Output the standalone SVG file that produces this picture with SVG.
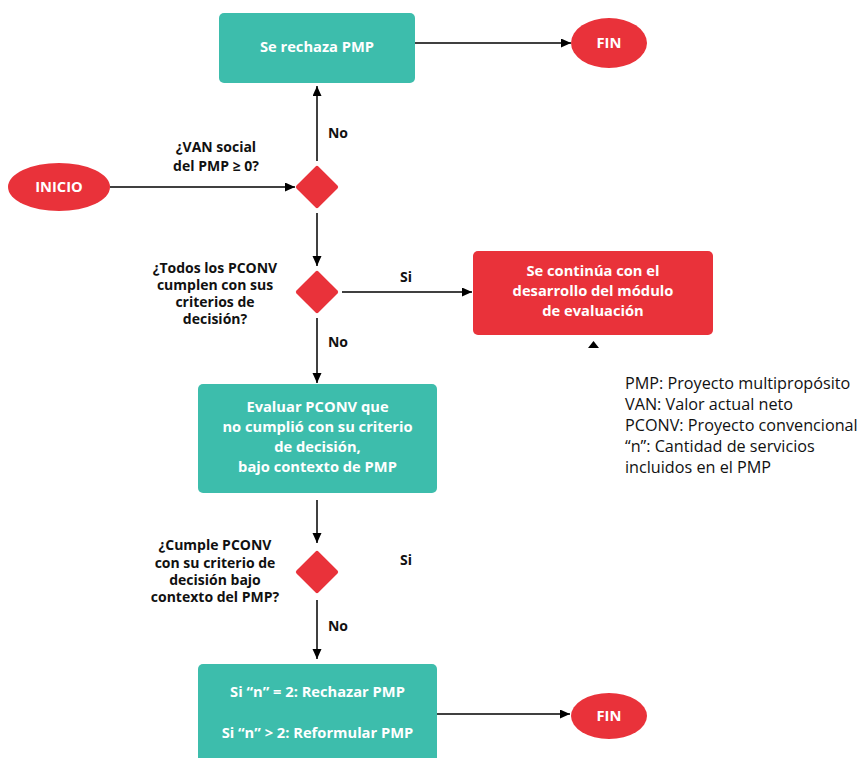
<svg xmlns="http://www.w3.org/2000/svg" width="864" height="758" viewBox="0 0 864 758">
  <defs>
    <style>
      .proc { fill: #3dbdac; }
      .term { fill: #e9323a; }
      .dec { fill: #e9323a; }
      .wt { font-family: "Open Sans", "Noto Sans", sans-serif; font-weight: bold; font-size: 14.7px; fill: #ffffff; text-anchor: middle; }
      .lb { font-family: "Open Sans", "Noto Sans", sans-serif; font-weight: bold; font-size: 14px; fill: #111111; text-anchor: middle; }
      .lg { font-family: "Open Sans", "Noto Sans", sans-serif; font-size: 16.2px; fill: #111111; }
      .edge { stroke: #000000; stroke-width: 1.5; fill: none; marker-end: url(#arrow); }
    </style>
    <marker id="arrow" markerUnits="userSpaceOnUse" markerWidth="11" markerHeight="10" refX="10" refY="4.5" orient="auto">
      <path d="M0,0 L10,4.5 L0,9 z" fill="#000000"/>
    </marker>
  </defs>
  <rect width="864" height="758" fill="#ffffff"/>

  <!-- connectors -->
  <g id="connectors">
    <line class="edge" x1="110" y1="187" x2="295" y2="187"/>
    <line class="edge" x1="317" y1="161" x2="317" y2="86"/>
    <line class="edge" x1="415" y1="43" x2="571" y2="43"/>
    <line class="edge" x1="317" y1="213" x2="317" y2="266"/>
    <line class="edge" x1="342" y1="292" x2="472" y2="292"/>
    <line class="edge" x1="317" y1="318" x2="317" y2="383"/>
    <line class="edge" x1="317" y1="500" x2="317" y2="543"/>
    <line class="edge" x1="317" y1="600" x2="317" y2="659"/>
    <line class="edge" x1="437" y1="714" x2="570" y2="714"/>
    <polygon points="588,348 599,348 593.5,341" fill="#000000"/>
    <text class="lb" x="338" y="138">No</text>
    <text class="lb" x="406" y="282">Si</text>
    <text class="lb" x="338" y="347">No</text>
    <text class="lb" x="406" y="565">Si</text>
    <text class="lb" x="338" y="631">No</text>
  </g>

  <!-- start -->
  <g id="inicio">
    <ellipse class="term" cx="59" cy="187" rx="51" ry="24"/>
    <text class="wt" x="59" y="192">INICIO</text>
  </g>

  <!-- decision: social NPV -->
  <g id="dec-van">
    <rect class="dec" x="301.5" y="171.5" width="31" height="31" rx="2" transform="rotate(45 317 187)"/>
    <text class="lb" x="216" y="152">¿VAN social</text>
    <text class="lb" x="216" y="171">del PMP ≥ 0?</text>
  </g>

  <g id="rechaza">
    <rect class="proc" x="219" y="13" width="196" height="70" rx="5"/>
    <text class="wt" x="317" y="52">Se rechaza PMP</text>
  </g>

  <g id="fin-top">
    <ellipse class="term" cx="609" cy="43" rx="38" ry="25"/>
    <text class="wt" x="609" y="48">FIN</text>
  </g>

  <!-- decision: all conventional projects -->
  <g id="dec-todos">
    <rect class="dec" x="301.5" y="276.5" width="31" height="31" rx="2" transform="rotate(45 317 292)"/>
    <text class="lb" x="215" y="273">¿Todos los PCONV</text>
    <text class="lb" x="215" y="290">cumplen con sus</text>
    <text class="lb" x="215" y="307">criterios de</text>
    <text class="lb" x="215" y="324">decisión?</text>
  </g>

  <g id="continua">
    <rect class="term" x="473" y="251" width="240" height="84" rx="5"/>
    <text class="wt" x="593" y="276">Se continúa con el</text>
    <text class="wt" x="593" y="296">desarrollo del módulo</text>
    <text class="wt" x="593" y="316">de evaluación</text>
  </g>

  <g id="leyenda">
    <text class="lg" x="625" y="389">PMP: Proyecto multipropósito</text>
    <text class="lg" x="625" y="410">VAN: Valor actual neto</text>
    <text class="lg" x="625" y="431">PCONV: Proyecto convencional</text>
    <text class="lg" x="625" y="452">“n”: Cantidad de servicios</text>
    <text class="lg" x="625" y="473">incluidos en el PMP</text>
  </g>

  <g id="evaluar">
    <rect class="proc" x="198" y="384" width="239" height="109" rx="5"/>
    <text class="wt" x="317.5" y="412">Evaluar PCONV que</text>
    <text class="wt" x="317.5" y="432">no cumplió con su criterio</text>
    <text class="wt" x="317.5" y="452">de decisión,</text>
    <text class="wt" x="317.5" y="472">bajo contexto de PMP</text>
  </g>

  <!-- decision: meets criterion in multipurpose context -->
  <g id="dec-cumple">
    <rect class="dec" x="301.5" y="556.5" width="31" height="31" rx="2" transform="rotate(45 317 572)"/>
    <text class="lb" x="215" y="550">¿Cumple PCONV</text>
    <text class="lb" x="215" y="568">con su criterio de</text>
    <text class="lb" x="215" y="585">decisión bajo</text>
    <text class="lb" x="215" y="602">contexto del PMP?</text>
  </g>

  <g id="resultado">
    <rect class="proc" x="198" y="664" width="239" height="110" rx="5"/>
    <text class="wt" x="317.5" y="697">Si “n” = 2: Rechazar PMP</text>
    <text class="wt" x="317.5" y="738">Si “n” &gt; 2: Reformular PMP</text>
  </g>

  <g id="fin-bottom">
    <ellipse class="term" cx="609" cy="716" rx="38" ry="23"/>
    <text class="wt" x="609" y="721">FIN</text>
  </g>
</svg>
